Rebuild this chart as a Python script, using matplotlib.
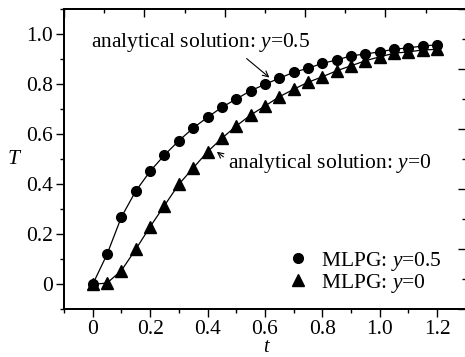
import matplotlib
matplotlib.use("Agg")
import matplotlib.pyplot as plt
from matplotlib.ticker import MultipleLocator
import numpy as np

plt.rcParams['font.family'] = ['Liberation Serif', 'DejaVu Serif']
plt.rcParams['mathtext.fontset'] = 'custom'
plt.rcParams['mathtext.rm'] = 'Liberation Serif'
plt.rcParams['mathtext.it'] = 'Liberation Serif:italic'
plt.rcParams['font.size'] = 15.5

t = [0.00, 0.05, 0.10, 0.15, 0.20, 0.25, 0.30, 0.35, 0.40, 0.45, 0.50, 0.55, 0.60,
     0.65, 0.70, 0.75, 0.80, 0.85, 0.90, 0.95, 1.00, 1.05, 1.10, 1.15, 1.20]
T_mid = [0.000, 0.120, 0.269, 0.373, 0.452, 0.517, 0.574, 0.625, 0.668, 0.708, 0.741, 0.774, 0.800,
         0.824, 0.848, 0.864, 0.884, 0.897, 0.914, 0.921, 0.930, 0.940, 0.946, 0.953, 0.958]
T_bot = [0.000, 0.005, 0.055, 0.140, 0.230, 0.315, 0.400, 0.465, 0.530, 0.584, 0.633, 0.677, 0.713,
         0.750, 0.780, 0.808, 0.830, 0.854, 0.874, 0.894, 0.910, 0.924, 0.930, 0.937, 0.940]

label_mid = 'MLPG: $y$=0.5'
label_bot = 'MLPG: $y$=0'
ann_mid = 'analytical solution: $y$=0.5'
ann_bot = 'analytical solution: $y$=0'
x_ticks = [0, 0.2, 0.4, 0.6, 0.8, 1.0, 1.2]
x_ticklabels = ['0', '0.2', '0.4', '0.6', '0.8', '1.0', '1.2']
y_ticks = [0, 0.2, 0.4, 0.6, 0.8, 1.0]
y_ticklabels = ['0', '0.2', '0.4', '0.6', '0.8', '1.0']

FS = 15.5

fig = plt.figure(figsize=(4.65, 3.57), dpi=100)
ax = fig.add_axes([64/465, (357-309.3)/357, 401.8/465, 300/357])

ax.plot(t, T_mid, '-', color='black', lw=0.9)
ax.plot(t, T_bot, '-', color='black', lw=0.9)
ax.plot(t, T_mid, 'o', color='black', ms=7, label=label_mid, ls='none')
ax.plot(t, T_bot, '^', color='black', ms=8, label=label_bot, ls='none')

ax.set_xlim(-0.1, 1.3)
ax.set_ylim(-0.1, 1.1)
ax.set_xticks(x_ticks)
ax.set_xticklabels(x_ticklabels)
ax.set_yticks(y_ticks)
ax.set_yticklabels(y_ticklabels)
ax.xaxis.set_minor_locator(MultipleLocator(0.1))
ax.yaxis.set_minor_locator(MultipleLocator(0.1))
ax.tick_params(which='major', direction='out', length=6, width=1, labelsize=FS, top=False, right=False, pad=2)
ax.tick_params(which='minor', direction='out', length=3, width=1, top=False, right=False)
for s in ax.spines.values():
    s.set_linewidth(1.2)
ax.spines['right'].set_visible(False)

ax.set_xlabel('t', fontsize=14.5, va='center', style='italic')
ax.set_ylabel('T', fontsize=FS, rotation=0, va='center', style='italic')
ax.xaxis.set_label_coords(0.503, -0.127)
ax.yaxis.set_label_coords(-0.125, 0.50)

# secondary top / right axes (ticks only)
axt = ax.twiny()
axt.set_xlim(0, 5)
axt.xaxis.set_major_locator(MultipleLocator(1))
axt.xaxis.set_minor_locator(MultipleLocator(0.5))
axt.tick_params(axis='x', which='major', direction='in', length=6, width=1, labeltop=False)
axt.tick_params(axis='x', which='minor', direction='in', length=3, width=1)
axr = ax.twinx()
axr.set_ylim(0, 5)
axr.yaxis.set_major_locator(MultipleLocator(1))
axr.yaxis.set_minor_locator(MultipleLocator(0.5))
axr.tick_params(axis='y', which='major', direction='in', length=6, width=1, labelright=False)
axr.tick_params(axis='y', which='minor', direction='in', length=3, width=1)
for a in (axt, axr):
    a.spines['right'].set_visible(False)
    for s in a.spines.values():
        s.set_linewidth(1.2)

ax.text(-0.005, 0.969, ann_mid, ha='left', va='center', fontsize=FS)
ax.annotate('', xy=(0.623, 0.82), xytext=(0.529, 0.91),
            arrowprops=dict(arrowstyle='->', color='black', lw=0.8, mutation_scale=10))
ax.text(0.470, 0.485, ann_bot, ha='left', va='center', fontsize=FS)
ax.annotate('', xy=(0.425, 0.537), xytext=(0.463, 0.503),
            arrowprops=dict(arrowstyle='->', color='black', lw=0.8, mutation_scale=10))

leg = ax.legend(loc='center left', bbox_to_anchor=(0.558, 0.1227), frameon=False,
                handlelength=0.9, handletextpad=0.62, labelspacing=-0.05,
                borderaxespad=0, borderpad=0, fontsize=FS)

fig.savefig('out.png', dpi=100)
